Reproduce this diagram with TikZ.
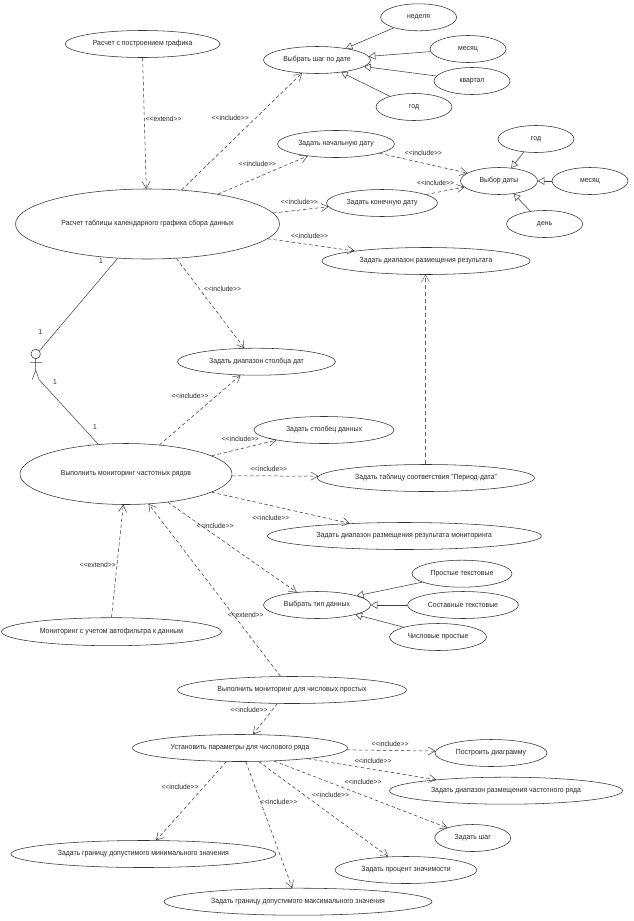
\documentclass[tikz,border=0pt]{standalone}
\usepackage{fontspec}
\setmainfont[FakeStretch=0.93]{Liberation Sans}
\usetikzlibrary{arrows.meta,shapes.geometric}
\tikzset{
  uc/.style={ellipse,draw=black!80,line width=0.55pt,inner sep=0pt,font=\fontsize{7.4}{9}\selectfont,text=black!85},
  dep/.style={draw=black!80,line width=0.5pt,dash pattern=on 3.5pt off 2.5pt,-{Straight Barb[length=7pt,width=8pt,line width=0.45pt,round]}},
  gen/.style={draw=black!75,line width=0.55pt,-{Triangle[open,length=6.5pt,width=7.5pt,line width=0.5pt,fill=white]}},
  assoc/.style={draw=black!75,line width=0.5pt},
  lab/.style={inner sep=0pt,font=\fontsize{7.2}{9}\selectfont,text=black!85},
}
\newcommand{\inc}{<{}<include>{}>}
\newcommand{\ext}{<{}<extend>{}>}
\begin{document}
\begin{tikzpicture}[x=1pt,y=-1pt]
\useasboundingbox[fill=white] (0,0) rectangle (633,921);
% use cases
\node[uc,minimum width=155pt,minimum height=27pt] (graf) at (142.6,44) {Расчет с построением графика};
\node[uc,minimum width=76pt,minimum height=27pt] (ned) at (418.6,17.3) {неделя};
\node[uc,minimum width=76pt,minimum height=27pt] (mes) at (468,49) {месяц};
\node[uc,minimum width=76pt,minimum height=27pt] (kv) at (472,81) {квартал};
\node[uc,minimum width=76pt,minimum height=27pt] (god) at (414,107) {год};
\node[uc,minimum width=107pt,minimum height=27pt] (shag) at (317,60) {Выбрать шаг по дате};
\node[uc,minimum width=117pt,minimum height=27pt] (nach) at (336,144) {Задать начальную дату};
\node[uc,minimum width=76pt,minimum height=27pt] (godb) at (536,139) {год};
\node[uc,minimum width=77pt,minimum height=27pt] (vybor) at (499,181) {Выбор даты};
\node[uc,minimum width=76pt,minimum height=27pt] (mesb) at (590,181) {месяц};
\node[uc,minimum width=76pt,minimum height=27pt] (den) at (544.6,224) {день};
\node[uc,minimum width=111pt,minimum height=27pt] (kon) at (382,203) {Задать конечную дату};
\node[uc,minimum width=264pt,minimum height=70pt] (tab) at (147.5,224) {Расчет таблицы календарного графика сбора данных};
\node[uc,minimum width=208pt,minimum height=27pt] (rez) at (426,261) {Задать диапазон размещения результата};
\node[uc,minimum width=158pt,minimum height=27pt] (stdat) at (256.5,361.7) {Задать диапазон столбца дат};
\node[uc,minimum width=140pt,minimum height=27pt] (stdan) at (324,430) {Задать столбец данных};
\node[uc,minimum width=212pt,minimum height=61pt] (mon) at (126,474) {Выполнить мониторинг частотных рядов};
\node[uc,minimum width=217pt,minimum height=27pt] (per) at (426,478) {Задать таблицу соответствия "Период-дата"};
\node[uc,minimum width=274pt,minimum height=27pt] (rezm) at (404.4,536) {Задать диапазон размещения результата мониторинга};
\node[uc,minimum width=107pt,minimum height=27pt] (tip) at (317,605) {Выбрать тип данных};
\node[uc,minimum width=100pt,minimum height=27pt] (prost) at (462,573.7) {Простые текстовые};
\node[uc,minimum width=111pt,minimum height=27pt] (sost) at (463,605) {Составные текстовые};
\node[uc,minimum width=97pt,minimum height=27pt] (chis) at (438,637) {Числовые простые};
\node[uc,minimum width=220pt,minimum height=28pt] (auto) at (111.5,631.7) {Мониторинг с учетом автофильтра к данным};
\node[uc,minimum width=229pt,minimum height=27pt] (vch) at (292,690) {Выполнить мониторинг для числовых простых};
\node[uc,minimum width=215pt,minimum height=27pt] (ust) at (240,748) {Установить параметры для числового ряда};
\node[uc,minimum width=112pt,minimum height=27pt] (diag) at (491,753) {Построить диаграмму};
\node[uc,minimum width=233pt,minimum height=27pt] (chast) at (506,790.7) {Задать диапазон размещения частотного ряда};
\node[uc,minimum width=76pt,minimum height=27pt] (zshag) at (472.7,838) {Задать шаг};
\node[uc,minimum width=142pt,minimum height=27pt] (proc) at (406,870) {Задать процент значимости};
\node[uc,minimum width=265pt,minimum height=27pt] (gmin) at (143.4,854) {Задать границу допустимого минимального значения};
\node[uc,minimum width=268pt,minimum height=27pt] (gmax) at (298,901.7) {Задать границу допустимого максимального значения};
% actor
\node[circle,draw=black!80,line width=0.55pt,minimum size=9.5pt,inner sep=0pt] (head) at (35.7,354) {};
\coordinate (hip) at (35.7,370);
\coordinate (armL) at (30,362.3);
\coordinate (armR) at (42,362.3);
\coordinate (legL) at (32.3,379.5);
\coordinate (legR) at (39,379.5);
\draw[assoc] (head.south) -- (hip) (armL) -- (armR) (legL) -- (hip) -- (legR);
% associations
\draw[assoc] (tab.229) -- (head.40);
\draw[assoc] (legR) -- (mon.133);
% dependencies
\draw[dep] (graf.270) -- (tab.92.5);
\draw[dep] (tab.45) -- (shag.221.6);
\draw[dep] (tab.23.5) -- (nach.203);
\draw[dep] (tab.5.3) -- (kon.184);
\draw[dep] (tab.-7) -- (rez.172);
\draw[dep] (tab.-50) -- (stdat.132);
\draw[dep] (nach.-12) -- (vybor.166);
\draw[dep] (kon.11.5) -- (vybor.190.8);
\draw[dep] (mon.41) -- (stdat.220);
\draw[dep] (mon.12.5) -- (stdan.192.8);
\draw[dep] (mon.-1) -- (per.179);
\draw[dep] (mon.-12) -- (rezm.167);
\draw[dep] (mon.-34.5) -- (tip.148);
\draw[dep,draw=black!60,dash pattern=on 4pt off 3pt] ([xshift=-0.5pt]per.90) -- ([xshift=-0.5pt]rez.270);
\draw[dep] (auto.90) -- (mon.-95);
\draw[dep] (vch.130) -- (mon.-53);
\draw[dep] (vch.223.5) -- (ust.46);
\draw[dep] (ust.-1) -- (diag.178);
\draw[dep] (ust.-9) -- (chast.171);
\draw[dep] (ust.-21.5) -- (zshag.158.8);
\draw[dep] (ust.-36) -- (proc.143.5);
\draw[dep] (ust.-67) -- (gmax.113);
\draw[dep] (ust.225) -- (gmin.47);
% generalisations
\draw[gen] (ned.203) -- (shag.22);
\draw[gen] (mes.184) -- (shag.4);
\draw[gen] (kv.172) -- (shag.-8);
\draw[gen] (god.156) -- (shag.-27.5);
\draw[gen] (godb.227) -- (vybor.47);
\draw[gen] (mesb.180) -- (vybor.0);
\draw[gen] (den.138) -- (vybor.-41.6);
\draw[gen] (prost.192) -- (tip.13);
\draw[gen] (sost.180) -- (tip.0);
\draw[gen] (chis.164) -- (tip.-14.5);
% labels
\node[lab] (l1) at (163.6,119) {\ext};
\node[lab] (l2) at (230.3,117.7) {\inc};
\node[lab] (l3) at (257.4,164) {\inc};
\node[lab] (l4) at (423.4,153.3) {\inc};
\node[lab] (l5) at (435.6,182.7) {\inc};
\node[lab] (l6) at (299.4,202) {\inc};
\node[lab] (l7) at (309.5,236) {\inc};
\node[lab] (l8) at (222.6,289) {\inc};
\node[lab] (l9) at (190,396) {\inc};
\node[lab] (l10) at (240.4,438.7) {\inc};
\node[lab] (l11) at (268.7,469) {\inc};
\node[lab] (l12) at (270.7,518) {\inc};
\node[lab] (l13) at (215,525.7) {\inc};
\node[lab] (l14) at (97.8,565) {\ext};
\node[lab] (l15) at (245.7,615) {\ext};
\node[lab] (l16) at (249,709.7) {\inc};
\node[lab] (l17) at (390,744) {\inc};
\node[lab] (l18) at (373,760.7) {\inc};
\node[lab] (l19) at (363,781.7) {\inc};
\node[lab] (l20) at (330.5,795) {\inc};
\node[lab] (l21) at (278.8,802.3) {\inc};
\node[lab] (l22) at (180,787) {\inc};
\node[lab] (n1) at (101,261) {1};
\node[lab] (n2) at (40.4,331.7) {1};
\node[lab] (n3) at (55,381.7) {1};
\node[lab] (n4) at (95,427) {1};
\end{tikzpicture}
\end{document}
